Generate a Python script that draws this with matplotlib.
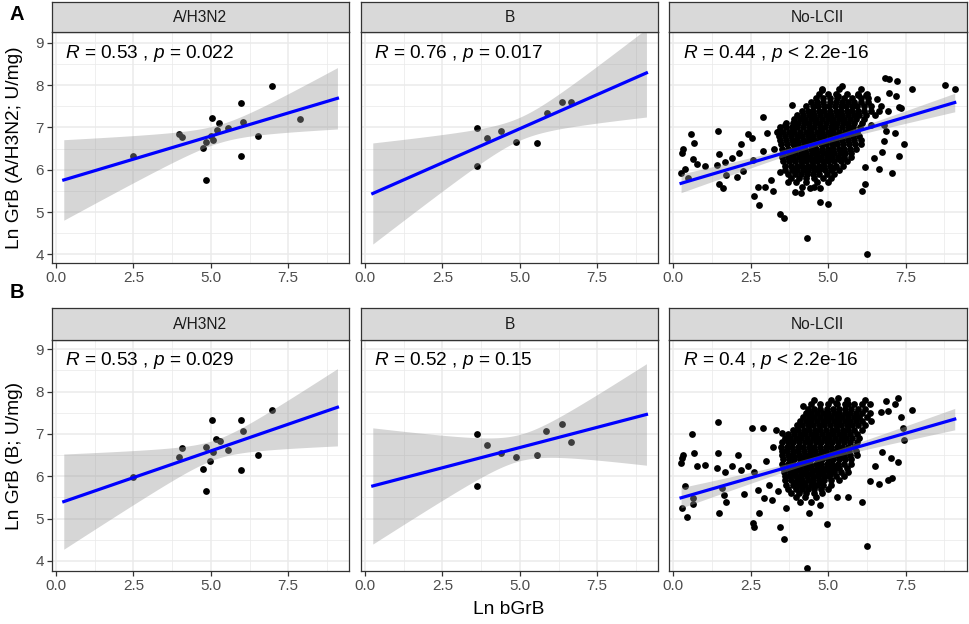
import math
import numpy as np
import matplotlib
matplotlib.use('Agg')
import matplotlib.pyplot as plt
from matplotlib.ticker import FixedLocator

plt.rcParams['font.family'] = ['Liberation Sans', 'DejaVu Sans']
plt.rcParams['mathtext.fontset'] = 'custom'
plt.rcParams['mathtext.rm'] = 'Liberation Sans'
plt.rcParams['mathtext.it'] = 'Liberation Sans:italic'

# ---- data ----
facets = ['A/H3N2', 'B', 'No-LCII']
row_letters = ['A', 'B']
y_titles = ['Ln GrB (A/H3N2; U/mg)', 'Ln GrB (B; U/mg)']
x_title = 'Ln bGrB'
cor_labels = [
    [r'$R$ = 0.53 , $p$ = 0.022', r'$R$ = 0.76 , $p$ = 0.017', r'$R$ = 0.44 , $p$ < 2.2e-16'],
    [r'$R$ = 0.53 , $p$ = 0.029', r'$R$ = 0.52 , $p$ = 0.15', r'$R$ = 0.4 , $p$ < 2.2e-16'],
]

# value of the fitted line at the left and right end of the x range, per panel
line_left = [[5.76, 5.44, 5.68], [5.40, 5.77, 5.49]]
line_right = [[7.69, 8.29, 7.59], [7.63, 7.46, 7.35]]

# row A, A/H3N2
a_h3_x = [2.50, 3.97, 4.08, 4.76, 4.83, 4.85, 5.01, 5.06, 5.04, 5.19, 5.27, 5.57, 5.97, 6.03, 5.99, 6.53, 6.99, 7.89]
a_h3_y = [6.33, 6.84, 6.77, 6.51, 5.76, 6.66, 6.80, 6.71, 7.22, 6.95, 7.10, 6.98, 7.57, 7.13, 6.33, 6.80, 7.98, 7.20]
# row A, B
a_b_x = [3.62, 3.61, 3.95, 4.40, 4.88, 5.55, 5.87, 6.37, 6.66]
a_b_y = [6.99, 6.10, 6.76, 6.91, 6.66, 6.63, 7.35, 7.61, 7.61]
# row B, A/H3N2
b_h3_x = [2.50, 3.97, 4.08, 4.75, 4.83, 4.85, 4.98, 5.06, 5.04, 5.18, 5.29, 5.57, 5.97, 6.03, 5.99, 6.53, 6.99]
b_h3_y = [5.98, 6.46, 6.67, 6.18, 5.66, 6.70, 6.35, 6.57, 7.32, 6.89, 6.84, 6.61, 7.32, 7.07, 6.15, 6.50, 7.56]
# row B, B
b_b_x = [3.62, 3.61, 3.95, 4.40, 4.88, 5.54, 5.86, 6.37, 6.66]
b_b_y = [6.99, 5.77, 6.74, 6.56, 6.45, 6.51, 7.07, 7.23, 6.82]

# row A, No-LCII: scattered points around the cloud
a_nl_x = [0.27, 0.30, 0.25, 0.39, 0.58, 0.66, 0.65, 0.76, 0.47, 1.01, 1.44, 1.46, 1.40, 1.48, 1.62,
          1.68, 1.71, 1.88, 2.07, 2.11, 2.18, 2.26, 2.40, 2.55, 2.58, 2.59, 2.78, 2.72, 2.91, 2.90,
          2.96, 3.04, 3.16, 3.23, 3.24, 3.45, 3.59, 3.83, 3.61, 3.40, 3.45, 3.72, 3.94, 4.12, 4.31,
          4.43, 4.73, 4.75, 4.98, 4.80, 5.46, 5.31, 5.98, 6.22, 6.26, 6.19, 6.10, 6.19, 6.48, 6.65,
          6.74, 6.82, 6.86, 6.83, 6.97, 7.23, 6.97, 7.19, 7.30, 7.36, 7.15, 7.06, 7.28, 7.44, 7.71,
          8.76, 9.09, 6.59, 6.38, 6.81]
a_nl_y = [6.40, 6.49, 5.93, 6.03, 6.84, 6.64, 6.25, 6.13, 5.80, 6.09, 6.91, 6.38, 6.11, 5.67, 5.56,
          6.19, 5.87, 6.28, 5.83, 6.39, 6.61, 5.98, 6.84, 6.76, 6.24, 5.37, 5.17, 5.59, 7.24, 6.44,
          5.59, 6.88, 5.77, 5.50, 6.50, 4.96, 4.87, 7.54, 7.07, 6.91, 5.95, 5.72, 5.48, 5.44, 4.38,
          5.58, 5.24, 5.56, 5.20, 7.88, 7.99, 7.74, 7.76, 7.76, 4.02, 5.67, 5.49, 6.07, 6.27, 6.02,
          6.43, 6.69, 6.91, 8.16, 8.14, 8.10, 7.82, 7.74, 7.49, 7.47, 6.86, 5.93, 6.33, 6.61, 7.90,
          8.00, 7.90, 7.68, 7.06, 7.06]
# row A, No-LCII: the dense core, one list of x per level of y
a_core_y = [7.90, 7.80, 7.70, 7.60, 7.50, 7.40, 7.30, 7.20, 7.10, 7.00, 6.90, 6.80, 6.70, 6.60,
            6.50, 6.40, 6.30, 6.20, 6.10, 6.00, 5.90, 5.80, 5.70, 5.60]
a_core_x = [
    [4.80, 5.35, 6.05],
    [4.70, 5.00, 5.25, 5.60, 5.95, 6.25],
    [4.60, 4.82, 5.05, 5.28, 5.50, 5.78, 6.05, 6.30],
    [4.45, 4.65, 4.85, 5.05, 5.25, 5.45, 5.65, 5.85, 6.05, 6.30],
    [4.30, 4.50, 4.68, 4.86, 5.04, 5.22, 5.40, 5.58, 5.76, 5.94, 6.15, 6.40, 6.70],
    [4.15, 4.34, 4.52, 4.70, 4.88, 5.06, 5.24, 5.42, 5.60, 5.78, 5.96, 6.15, 6.40, 6.65, 6.95],
    [4.00, 4.20, 4.38, 4.56, 4.74, 4.92, 5.10, 5.28, 5.46, 5.64, 5.82, 6.00, 6.22, 6.50],
    [3.90, 4.08, 4.26, 4.44, 4.62, 4.80, 4.98, 5.16, 5.34, 5.52, 5.70, 5.90, 6.15],
    [3.65, 3.85, 4.03, 4.21, 4.39, 4.57, 4.75, 4.93, 5.11, 5.29, 5.47, 5.65, 5.85, 6.10],
    [3.45, 3.65, 3.83, 4.01, 4.19, 4.37, 4.55, 4.73, 4.91, 5.09, 5.27, 5.45, 5.63, 5.81, 6.02],
    [3.35, 3.55, 3.73, 3.91, 4.09, 4.27, 4.45, 4.63, 4.81, 4.99, 5.17, 5.35, 5.53, 5.71, 5.92],
    [3.42, 3.62, 3.80, 3.98, 4.16, 4.34, 4.52, 4.70, 4.88, 5.06, 5.24, 5.42, 5.60, 5.80, 6.00],
    [3.45, 3.65, 3.83, 4.01, 4.19, 4.37, 4.55, 4.73, 4.91, 5.09, 5.27, 5.45, 5.63, 5.83, 6.05],
    [3.48, 3.68, 3.86, 4.04, 4.22, 4.40, 4.58, 4.76, 4.94, 5.12, 5.30, 5.48, 5.66, 5.86, 6.05],
    [3.52, 3.72, 3.90, 4.08, 4.26, 4.44, 4.62, 4.80, 4.98, 5.16, 5.34, 5.52, 5.70, 5.90],
    [3.55, 3.75, 3.93, 4.11, 4.29, 4.47, 4.65, 4.83, 5.01, 5.19, 5.37, 5.55, 5.75],
    [3.50, 3.70, 3.88, 4.06, 4.24, 4.42, 4.60, 4.78, 4.96, 5.14, 5.32, 5.52, 5.75],
    [3.55, 3.75, 3.93, 4.11, 4.29, 4.47, 4.65, 4.83, 5.01, 5.19, 5.40, 5.62],
    [3.60, 3.80, 3.98, 4.16, 4.34, 4.52, 4.70, 4.88, 5.06, 5.25, 5.48],
    [3.62, 3.82, 4.00, 4.18, 4.36, 4.54, 4.72, 4.90, 5.10, 5.35],
    [3.70, 3.92, 4.12, 4.32, 4.52, 4.72, 4.95, 5.20],
    [3.80, 4.05, 4.30, 4.55, 4.85, 5.10],
    [3.95, 4.30, 4.65, 5.00],
    [4.15, 4.55],
]
# row A, No-LCII: overlapping points hidden inside the black centre
a_over_x = [3.95, 4.25, 4.55, 4.85, 5.15, 3.85, 4.15, 4.45, 4.75, 5.05, 5.35,
            3.90, 4.20, 4.50, 4.80, 5.10, 5.40, 4.00, 4.30, 4.60, 4.90, 5.20]
a_over_y = [6.05, 6.05, 6.05, 6.05, 6.05, 6.25, 6.25, 6.25, 6.25, 6.25, 6.25,
            6.45, 6.45, 6.45, 6.45, 6.45, 6.45, 6.65, 6.65, 6.65, 6.65, 6.65]

# row B, No-LCII: scattered points around the cloud
b_nl_x = [0.27, 0.44, 0.25, 0.27, 0.30, 0.39, 0.61, 0.66, 0.76, 0.64, 0.63, 1.03, 1.44, 1.44, 1.40,
          1.48, 1.58, 1.64, 1.71, 1.66, 1.88, 2.09, 2.18, 2.27, 2.40, 2.53, 2.58, 2.59, 2.61, 2.78,
          2.74, 2.91, 2.92, 2.98, 3.09, 3.18, 3.31, 3.52, 3.39, 3.46, 3.59, 3.63, 3.23, 4.31, 4.37,
          4.73, 4.97, 5.30, 5.65, 6.11, 6.25, 6.35, 6.63, 6.95, 7.06, 6.52, 6.73, 7.26, 7.03, 7.45,
          7.43, 7.71, 7.26, 7.15, 6.87, 6.92, 6.70, 6.19, 6.35, 5.65, 5.33, 5.24, 4.19, 7.35]
b_nl_y = [5.26, 5.03, 6.31, 6.43, 6.50, 5.76, 7.00, 6.54, 6.24, 5.35, 5.48, 6.27, 7.28, 6.55, 6.19,
          5.13, 5.72, 5.56, 5.40, 6.11, 6.23, 6.50, 6.15, 5.58, 6.23, 7.13, 4.89, 4.79, 6.11, 5.12,
          5.68, 7.13, 5.48, 6.35, 5.80, 5.44, 7.09, 7.02, 5.64, 4.79, 4.51, 5.26, 6.68, 3.84, 5.14,
          5.32, 4.87, 5.52, 5.52, 5.40, 4.35, 5.89, 5.82, 5.91, 5.95, 6.23, 6.57, 6.33, 6.44, 6.85,
          7.13, 7.57, 7.86, 7.70, 7.78, 7.53, 7.51, 7.80, 7.70, 7.70, 7.86, 7.72, 7.65, 7.39]
# row B, No-LCII: the dense core
b_core_y = [7.80, 7.70, 7.60, 7.50, 7.40, 7.30, 7.20, 7.10, 7.00, 6.90, 6.80, 6.70, 6.60, 6.50,
            6.40, 6.30, 6.20, 6.10, 6.00, 5.90, 5.80, 5.70, 5.60, 5.50, 5.40]
b_core_x = [
    [4.55, 5.10, 5.60],
    [4.45, 4.75, 5.00, 5.30, 5.55, 5.85, 6.10],
    [4.35, 4.55, 4.75, 4.95, 5.15, 5.35, 5.55, 5.75, 5.95, 6.20],
    [4.28, 4.46, 4.64, 4.82, 5.00, 5.18, 5.36, 5.54, 5.72, 5.90, 6.10, 6.35],
    [4.20, 4.38, 4.56, 4.74, 4.92, 5.10, 5.28, 5.46, 5.64, 5.82, 6.00, 6.25],
    [4.10, 4.28, 4.46, 4.64, 4.82, 5.00, 5.18, 5.36, 5.54, 5.72, 5.90, 6.10, 6.40],
    [3.98, 4.16, 4.34, 4.52, 4.70, 4.88, 5.06, 5.24, 5.42, 5.60, 5.78, 5.96, 6.20],
    [3.85, 4.03, 4.21, 4.39, 4.57, 4.75, 4.93, 5.11, 5.29, 5.47, 5.65, 5.85, 6.10],
    [3.72, 3.90, 4.08, 4.26, 4.44, 4.62, 4.80, 4.98, 5.16, 5.34, 5.52, 5.70, 5.92],
    [3.60, 3.78, 3.96, 4.14, 4.32, 4.50, 4.68, 4.86, 5.04, 5.22, 5.40, 5.58, 5.78, 6.00],
    [3.52, 3.70, 3.88, 4.06, 4.24, 4.42, 4.60, 4.78, 4.96, 5.14, 5.32, 5.50, 5.70, 5.92],
    [3.48, 3.66, 3.84, 4.02, 4.20, 4.38, 4.56, 4.74, 4.92, 5.10, 5.28, 5.46, 5.64, 5.84],
    [3.50, 3.68, 3.86, 4.04, 4.22, 4.40, 4.58, 4.76, 4.94, 5.12, 5.30, 5.48, 5.68, 5.90],
    [3.52, 3.70, 3.88, 4.06, 4.24, 4.42, 4.60, 4.78, 4.96, 5.14, 5.32, 5.50, 5.70, 5.92],
    [3.55, 3.73, 3.91, 4.09, 4.27, 4.45, 4.63, 4.81, 4.99, 5.17, 5.35, 5.53, 5.75],
    [3.52, 3.70, 3.88, 4.06, 4.24, 4.42, 4.60, 4.78, 4.96, 5.14, 5.32, 5.52, 5.75],
    [3.55, 3.73, 3.91, 4.09, 4.27, 4.45, 4.63, 4.81, 4.99, 5.17, 5.36, 5.60],
    [3.58, 3.76, 3.94, 4.12, 4.30, 4.48, 4.66, 4.84, 5.02, 5.20, 5.40, 5.65],
    [3.60, 3.78, 3.96, 4.14, 4.32, 4.50, 4.68, 4.86, 5.04, 5.24, 5.50],
    [3.62, 3.80, 3.98, 4.16, 4.34, 4.52, 4.70, 4.88, 5.08, 5.35],
    [3.65, 3.85, 4.05, 4.25, 4.45, 4.65, 4.85, 5.10],
    [3.72, 3.95, 4.15, 4.35, 4.55, 4.78, 5.00],
    [3.80, 4.05, 4.30, 4.55, 4.80],
    [3.95, 4.25, 4.60],
    [4.10, 4.45],
]
# row B, No-LCII: overlapping points hidden inside the black centre
b_over_x = [3.90, 4.20, 4.50, 4.80, 3.85, 4.15, 4.45, 4.75, 5.05, 4.00, 4.30, 4.60, 4.90, 5.20,
            3.80, 4.10, 4.40, 4.70, 5.00, 5.30, 3.90, 4.20, 4.50, 4.80, 5.10, 5.40]
b_over_y = [5.85, 5.85, 5.85, 5.85, 6.05, 6.05, 6.05, 6.05, 6.05, 6.15, 6.15, 6.15, 6.15, 6.15,
            6.25, 6.25, 6.25, 6.25, 6.25, 6.25, 6.45, 6.45, 6.45, 6.45, 6.45, 6.45]

x_ticks = [0.0, 2.5, 5.0, 7.5]
y_ticks = [4, 5, 6, 7, 8, 9]


def with_core(x, y, core_x, core_y, over_x, over_y):
    xs = list(x) + list(over_x)
    ys = list(y) + list(over_y)
    for yy, row in zip(core_y, core_x):
        xs += row
        ys += [yy] * len(row)
    return np.array(xs), np.array(ys)


def t_crit(df, q=0.975):
    # quantile of Student t by numeric integration of its density
    t = np.linspace(0, 12, 24001)
    c = math.exp(math.lgamma((df + 1) / 2) - math.lgamma(df / 2)) / math.sqrt(df * math.pi)
    pdf = c * (1 + t ** 2 / df) ** (-(df + 1) / 2)
    cdf = 0.5 + np.concatenate([[0], np.cumsum((pdf[1:] + pdf[:-1]) / 2 * np.diff(t))])
    return np.interp(q, cdf, t)


panels = [
    [(np.array(a_h3_x), np.array(a_h3_y)), (np.array(a_b_x), np.array(a_b_y)),
     with_core(a_nl_x, a_nl_y, a_core_x, a_core_y, a_over_x, a_over_y)],
    [(np.array(b_h3_x), np.array(b_h3_y)), (np.array(b_b_x), np.array(b_b_y)),
     with_core(b_nl_x, b_nl_y, b_core_x, b_core_y, b_over_x, b_over_y)],
]

# lines run over the whole shared x range (fullrange)
all_x = np.concatenate([p[0] for row in panels for p in row])
x_lo, x_hi = all_x.min(), all_x.max()
x_fit = np.linspace(x_lo, x_hi, 200)

# ---- layout in pixels ----
W, H = 969, 624
col_left = [51.7, 360.7, 669.0]
col_w = 297.5
strip_top = [1.7, 308.3]
panel_top = [32.3, 340.0]
panel_bot = [263.3, 571.0]
y_lims = [(3.79, 9.25), (3.76, 9.22)]

dark = '#333333'

fig = plt.figure(figsize=(W / 100, H / 100), dpi=100)


def rect(x0, y0, x1, y1):
    return [x0 / W, 1 - y1 / H, (x1 - x0) / W, (y1 - y0) / H]


for r in range(2):
    for c in range(3):
        x, y = panels[r][c]
        ax = fig.add_axes(rect(col_left[c], panel_top[r], col_left[c] + col_w, panel_bot[r]))
        ax.set_xlim(-0.14, 9.47)
        ax.set_ylim(*y_lims[r])

        # grid like theme_bw
        ax.xaxis.set_major_locator(FixedLocator(x_ticks))
        ax.yaxis.set_major_locator(FixedLocator(y_ticks))
        ax.xaxis.set_minor_locator(FixedLocator([1.25, 3.75, 6.25, 8.75]))
        ax.yaxis.set_minor_locator(FixedLocator([4.5, 5.5, 6.5, 7.5, 8.5]))
        ax.grid(which='major', color='#EBEBEB', linewidth=1.1, zorder=0)
        ax.grid(which='minor', color='#EBEBEB', linewidth=0.55, zorder=0)
        ax.set_axisbelow(True)
        ax.tick_params(which='minor', length=0)
        ax.tick_params(which='major', direction='out', length=3.5, width=0.9, color=dark,
                       labelcolor='#4D4D4D', labelsize=11, pad=2)
        ax.set_xticklabels([f'{v:.1f}' for v in x_ticks])
        if c == 0:
            ax.set_yticklabels([str(v) for v in y_ticks])
        else:
            ax.tick_params(axis='y', labelleft=False, length=0)
        for s in ax.spines.values():
            s.set_color(dark)
            s.set_linewidth(0.9)

        ax.scatter(x, y, s=24, color='black', linewidths=0, zorder=2)

        # fitted line with its 95% confidence band
        slope = (line_right[r][c] - line_left[r][c]) / (x_hi - x_lo)
        y_fit = line_left[r][c] + slope * (x_fit - x_lo)
        y_hat = line_left[r][c] + slope * (x - x_lo)
        n = len(x)
        s_err = math.sqrt(np.sum((y - y_hat) ** 2) / (n - 2))
        sxx = np.sum((x - x.mean()) ** 2)
        se = s_err * np.sqrt(1 / n + (x_fit - x.mean()) ** 2 / sxx)
        tc = t_crit(n - 2)
        ax.fill_between(x_fit, y_fit - tc * se, y_fit + tc * se, color='#999999', alpha=0.4,
                        linewidth=0, zorder=3)
        ax.plot(x_fit, y_fit, color='#0000FF', linewidth=2.3, zorder=4)

        ax.text(0.3, 8.74, cor_labels[r][c], fontsize=13.7, ha='left', va='center', zorder=5)

        # facet strip
        sax = fig.add_axes(rect(col_left[c], strip_top[r], col_left[c] + col_w, panel_top[r]))
        sax.set_facecolor('#D9D9D9')
        sax.set_xticks([])
        sax.set_yticks([])
        for s in sax.spines.values():
            s.set_color(dark)
            s.set_linewidth(0.9)
        sax.text(0.5, 0.5, facets[c], ha='center', va='center', fontsize=11.2, color='#1A1A1A',
                 transform=sax.transAxes)

# row letters and axis titles
fig.text(17 / W, 1 - 15 / H, row_letters[0], fontsize=14.5, fontweight='bold', ha='center', va='center')
fig.text(17 / W, 1 - 293 / H, row_letters[1], fontsize=14.5, fontweight='bold', ha='center', va='center')
fig.text(15 / W, 1 - 148 / H, y_titles[0], fontsize=13.8, rotation=90, ha='center', va='center')
fig.text(15 / W, 1 - 455.5 / H, y_titles[1], fontsize=13.8, rotation=90, ha='center', va='center')
fig.text(509 / W, 1 - 610 / H, x_title, fontsize=13.8, ha='center', va='center')

plt.savefig('out.png', dpi=100)
